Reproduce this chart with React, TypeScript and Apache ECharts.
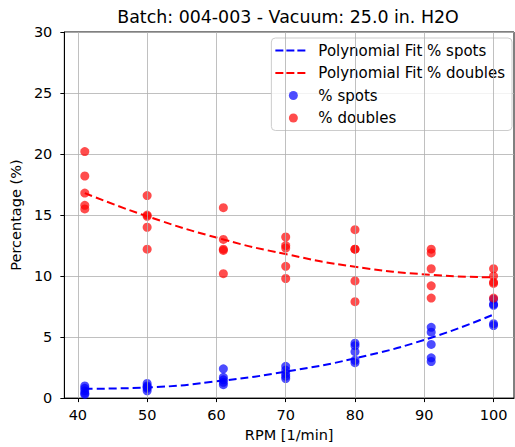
import React, { useEffect, useRef } from "react";
import * as echarts from "echarts";

const titleText = "Batch: 004-003 - Vacuum: 25.0 in. H2O";
const xTicks = [40, 50, 60, 70, 80, 90, 100];
const rpmLevels = [41, 50, 61, 70, 80, 91, 100];
const spotsByRpm = [
  [1.0, 0.8, 0.6, 0.4, 0.3],
  [1.2, 1.0, 0.9, 0.8, 0.6],
  [2.4, 1.7, 1.5, 1.3, 1.1],
  [2.6, 2.3, 2.0, 1.8, 1.6],
  [4.5, 4.3, 3.8, 3.1, 2.9],
  [5.8, 5.4, 4.4, 3.3, 3.0],
  [8.1, 7.7, 7.6, 6.1, 5.95],
];
const doublesByRpm = [
  [20.2, 18.2, 16.8, 15.8, 15.5],
  [16.6, 15.0, 14.9, 14.0, 12.2],
  [15.6, 13.0, 12.2, 12.1, 10.2],
  [13.2, 12.5, 12.3, 10.8, 9.8],
  [13.8, 12.2, 12.2, 9.6, 7.9],
  [12.2, 11.9, 10.6, 9.2, 8.2],
  [10.6, 10.0, 9.5, 9.4, 8.2],
];
const fitSpots = [0.76, 0.87, 1.44, 2.17, 3.26, 4.95, 6.85];
const fitDoubles = [16.8, 14.9, 13.0, 11.8, 10.76, 10.1, 9.9];

const font = "DejaVu Sans";
const fs = 14.5;

// legend icons: bounding box fixed by two moveTo points (38 x 11)
const dashIcon =
  "path://M0,0 M38,11 M0,4.5 h8 v2 h-8 z M11,4.5 h8 v2 h-8 z M22,4.5 h8 v2 h-8 z";
const dotIcon =
  "path://M0,0 M38,11 M13.5,5.5 a4.5,4.5 0 1,0 9,0 a4.5,4.5 0 1,0 -9,0 z";

export default function App() {
  const ref = useRef<HTMLDivElement>(null);
  useEffect(() => {
    if (!ref.current) return;
    const chart = echarts.init(ref.current, null, { renderer: "svg" });
    const toPts = (arr: number[][]) =>
      arr.flatMap((vals, i) => vals.map((v) => [rpmLevels[i], v]));
    const option: any = {
      animation: false,
      textStyle: { fontFamily: font },
      grid: {
        left: 62,
        right: 1,
        top: 32,
        bottom: 47,
        show: true,
        borderColor: "#000",
        borderWidth: 1,
        backgroundColor: "transparent",
      },
      graphic: [
        {
          type: "text",
          x: 288,
          y: 17,
          style: {
            text: titleText,
            fontFamily: font,
            fontSize: 17.4,
            fill: "#000",
            textAlign: "center",
            textVerticalAlign: "middle",
          },
        },
      ],
      legend: {
        orient: "vertical",
        right: 3,
        top: 38,
        itemWidth: 38,
        itemHeight: 11,
        itemGap: 7.5,
        padding: [5, 7, 5, 4],
        backgroundColor: "rgba(255,255,255,0.8)",
        borderColor: "#cccccc",
        borderWidth: 1,
        borderRadius: 4,
        textStyle: { fontFamily: font, fontSize: 15, color: "#000" },
        data: [
          { name: "Polynomial Fit % spots", icon: dashIcon, itemStyle: { color: "#0000ff", borderWidth: 0 } },
          { name: "Polynomial Fit % doubles", icon: dashIcon, itemStyle: { color: "#ff0000", borderWidth: 0 } },
          { name: "% spots", icon: dotIcon, itemStyle: { color: "rgba(0,0,255,0.7)", opacity: 1, borderWidth: 0 } },
          { name: "% doubles", icon: dotIcon, itemStyle: { color: "rgba(255,0,0,0.7)", opacity: 1, borderWidth: 0 } },
        ],
      },
      xAxis: {
        type: "value",
        min: 38.05,
        max: 102.95,
        name: "RPM [1/min]",
        nameLocation: "middle",
        nameGap: 27,
        nameTextStyle: { fontFamily: font, fontSize: fs, color: "#000" },
        axisLine: { show: true, lineStyle: { color: "#000", width: 1 } },
        axisTick: {
          show: true,
          length: 4,
          customValues: xTicks,
          lineStyle: { color: "#000" },
        },
        axisLabel: {
          customValues: xTicks,
          fontFamily: font,
          fontSize: fs,
          color: "#000",
          margin: 9,
        },
        splitLine: { show: false },
      },
      yAxis: {
        type: "value",
        min: 0,
        max: 30,
        interval: 5,
        name: "Percentage (%)",
        nameLocation: "middle",
        nameRotate: 90,
        nameGap: 37,
        nameTextStyle: { fontFamily: font, fontSize: fs, color: "#000" },
        axisLine: { show: true, lineStyle: { color: "#000", width: 1 } },
        axisTick: { show: true, length: 4, lineStyle: { color: "#000" } },
        axisLabel: { fontFamily: font, fontSize: fs, color: "#000", margin: 12 },
        splitLine: { show: true, lineStyle: { color: "#b0b0b0", width: 0.8 } },
      },
      series: [
        {
          name: "_grid",
          type: "scatter",
          data: [[40, 0]],
          symbolSize: 0,
          silent: true,
          z: 0,
          markLine: {
            silent: true,
            symbol: ["none", "none"],
            label: { show: false },
            lineStyle: { color: "#b0b0b0", width: 0.8, type: "solid" },
            emphasis: { disabled: true },
            data: xTicks.map((v) => ({ xAxis: v })),
          },
        },
        {
          name: "% spots",
          type: "scatter",
          data: toPts(spotsByRpm),
          symbol: "circle",
          symbolSize: 9,
          itemStyle: { color: "rgba(0,0,255,0.7)", opacity: 1 },
          z: 2,
        },
        {
          name: "% doubles",
          type: "scatter",
          data: toPts(doublesByRpm),
          symbol: "circle",
          symbolSize: 9,
          itemStyle: { color: "rgba(255,0,0,0.7)", opacity: 1 },
          z: 3,
        },
        {
          name: "Polynomial Fit % spots",
          type: "line",
          data: rpmLevels.map((x, i) => [x, fitSpots[i]]),
          smooth: true,
          showSymbol: false,
          symbol: "none",
          lineStyle: { color: "#0000ff", width: 2, type: [8, 4] },
          itemStyle: { color: "#0000ff" },
          z: 4,
        },
        {
          name: "Polynomial Fit % doubles",
          type: "line",
          data: rpmLevels.map((x, i) => [x, fitDoubles[i]]),
          smooth: true,
          showSymbol: false,
          symbol: "none",
          lineStyle: { color: "#ff0000", width: 2, type: [8, 4] },
          itemStyle: { color: "#ff0000" },
          z: 4,
        },
      ],
    };
    chart.setOption(option);
    return () => chart.dispose();
  }, []);
  return (
    <div
      ref={ref}
      style={{ position: "fixed", left: 0, top: 0, width: 515, height: 447, background: "#fff" }}
    />
  );
}
